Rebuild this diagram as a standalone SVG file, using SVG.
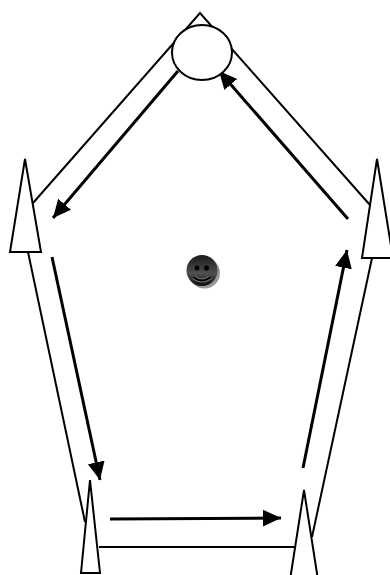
<svg xmlns="http://www.w3.org/2000/svg" width="390" height="575" viewBox="0 0 390 575">
<style>
.o{fill:#fff;stroke:#000;stroke-width:2}
.l{fill:none;stroke:#000;stroke-width:2}
.a{fill:none;stroke:#000;stroke-width:3;marker-end:url(#h)}
</style>
<defs>
<marker id="h" markerUnits="userSpaceOnUse" markerWidth="19" markerHeight="18" refX="18" refY="8.500" orient="auto"><path d="M0 0L18 8.500L0 17Z" fill="#000"/></marker>
<linearGradient id="g" x1="0" y1="0" x2="0" y2="1"><stop offset="0" stop-color="#1a1a1a"/><stop offset=".6" stop-color="#505050"/><stop offset="1" stop-color="#0a0a0a"/></linearGradient>
</defs>
<rect width="390" height="575" fill="#fff"/>
<g id="connectors">
<path class="l" d="M33 203L200 13L370 205"/>
<path class="l" d="M28 252L85 522"/>
<path class="l" d="M99 547H296"/>
<path class="l" d="M372 258L312 537"/>
<path class="a" d="M348 219L219 71"/>
<path class="a" d="M178 71L53 218"/>
<path class="a" d="M52 257L100 480"/>
<path class="a" d="M110 519L281 518"/>
<path class="a" d="M303 468L347 250"/>
</g>
<g id="node-top"><ellipse class="o" cx="202" cy="52.500" rx="30" ry="27.500"/></g>
<g id="node-left"><path class="o" d="M25 159L41 252H10Z"/></g>
<g id="node-right"><path class="o" d="M377 159L393 258H362Z"/></g>
<g id="node-bottom-left"><path class="o" d="M90 480L100 573H81Z"/></g>
<g id="node-bottom-right"><path class="o" d="M304 490L318 580H290Z"/></g>
<g id="node-center">
<circle cx="204.500" cy="273" r="15.500" fill="#999"/>
<circle cx="202" cy="270.500" r="15.500" fill="url(#g)"/>
<circle cx="197" cy="268" r="2.500" fill="#000"/>
<circle cx="206.500" cy="268" r="2.500" fill="#000"/>
<path d="M193.500 277Q202 284 210.500 277" fill="none" stroke="#777" stroke-width="4"/>
<path d="M193.500 277Q202 284 210.500 277" fill="none" stroke="#000" stroke-width="2"/>
</g>
</svg>
